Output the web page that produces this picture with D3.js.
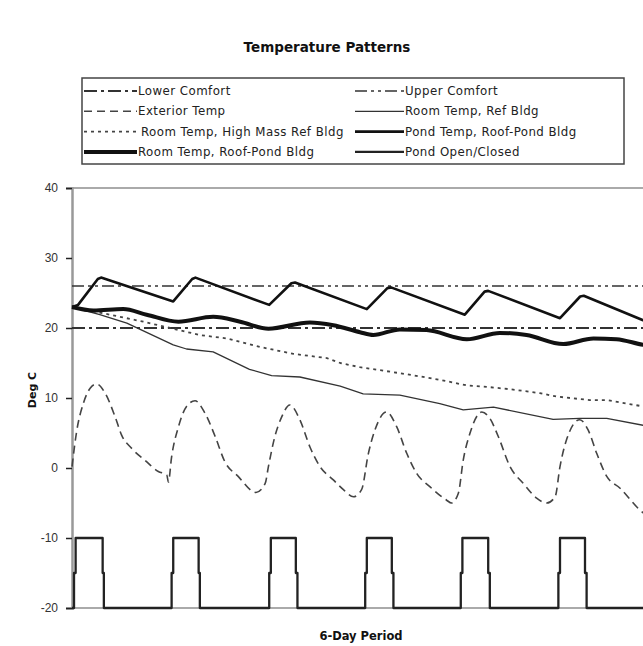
<!DOCTYPE html>
<html><head><meta charset="utf-8">
<script src="https://cdn.jsdelivr.net/npm/d3@7"></script>
<style>
html,body{margin:0;padding:0;background:#fff;}
svg{display:block;}
</style></head>
<body>
<svg id="chart" width="643" height="646"></svg>
<script>
// ---------- data (hours of the 6-day period, deg C) ----------
const yTicks = [-20, -10, 0, 10, 20, 30, 40];
const lowerComfort = [[0, 20], [144, 20]];
const upperComfort = [[0, 26], [144, 26]];
const exteriorTemp = [
  [0,0.2],[1.2,5.4],[2.8,9.2],[4.5,11.4],[6.1,12.0],[8.2,10.7],[10.7,7.3],[12.3,4.7],[14.8,2.8],
  [18.1,1.1],[21.4,-0.5],[23.5,-1.0],[23.9,-2.0],[24.7,1.6],[26.4,5.9],[28.4,8.8],[30.5,9.6],
  [33,7.8],[35.5,4.5],[37.9,0.9],[41.2,-1.2],[45.6,-3.5],[47.9,-2.2],[48.7,0.2],[50.3,4.5],
  [52,7.3],[54,9.0],[56.5,6.9],[59,3.0],[61.5,0.2],[64.8,-1.7],[67.3,-3.1],[69.8,-4.1],
  [71.8,-3.1],[73.5,2.1],[75.1,5.4],[78,8.0],[80.5,5.9],[83,2.1],[85.5,-0.8],[88.8,-2.7],
  [92.9,-4.6],[94.1,-5.0],[95.8,-3.6],[97,1.1],[98.7,5.0],[101.6,8.0],[103.6,7.1],[105.7,4.5],
  [108.6,0.2],[111.9,-2.2],[115.2,-4.3],[117.7,-5.0],[119.8,-4.1],[121,0.2],[122.6,4.0],
  [125.9,6.9],[128,5.4],[130.1,2.1],[132.6,-1.2],[135.9,-2.9],[140.8,-6.0],[144,-7.5]
];
const roomRef = [
  [0,23],[6.9,21.9],[13.6,20.7],[25.1,17.6],[28.4,17.0],[35,16.6],[44,14.1],[49.5,13.2],
  [56.5,13.0],[66.5,11.7],[72.2,10.6],[81.3,10.4],[91.2,9.2],[97,8.3],[104.5,8.7],
  [119.3,6.95],[125.9,7.1],[132.6,7.1],[141.6,6.1],[144,5.8]
];
const roomHighMass = [
  [0,23],[9.4,21.9],[17.7,20.9],[24.3,20.0],[31.7,19.0],[38.4,18.5],[46.6,17.3],[54.9,16.3],
  [63.2,15.7],[66.5,15.0],[71.4,14.4],[83,13.4],[91.2,12.6],[97.9,11.8],[102.8,11.6],
  [109.4,11.2],[116,10.7],[120.2,10.2],[128.4,9.7],[132.6,9.7],[141.6,8.8],[144,8.6]
];
const pondTemp = [
  [0,23.0],[1.5,23.3],[6.4,27.0],[7.2,27.2],[25.1,23.8],[29.8,27.0],[30.6,27.2],[48.9,23.3],
  [54.4,26.4],[55.3,26.5],[73.1,22.7],[78.2,25.7],[79.1,25.8],[97.4,21.9],[102.3,25.2],
  [103.2,25.3],[121,21.4],[126,24.5],[126.9,24.6],[141.6,21.1],[144,20.8]
];
const roomRoofPond = [
  [0,23.0],[5.3,22.5],[12.7,22.7],[18.5,21.9],[26.4,20.9],[35,21.6],[41.7,20.9],[48.7,19.9],
  [59,20.8],[64.8,20.4],[71.4,19.4],[74.7,19.0],[81.3,19.8],[87.9,19.7],[97.9,18.4],
  [106.1,19.3],[112.7,19.0],[121.8,17.7],[129.3,18.5],[135,18.4],[141.6,17.6],[144,17.4]
];
const pondOpenClosed = [
  [0,-20],[0.5,-20],[0.5,-15],[0.9,-15],[0.9,-10],[7.6,-10],[7.6,-15],[7.9,-15],[7.9,-20],
  [24.7,-20],[24.7,-15],[25.1,-15],[25.1,-10],[31.4,-10],[31.4,-15],[31.7,-15],[31.7,-20],
  [48.9,-20],[48.9,-15],[49.3,-15],[49.3,-10],[55.5,-10],[55.5,-15],[55.9,-15],[55.9,-20],
  [72.7,-20],[72.7,-15],[73.1,-15],[73.1,-10],[79.3,-10],[79.3,-15],[79.7,-15],[79.7,-20],
  [96.4,-20],[96.4,-15],[96.8,-15],[96.8,-10],[103.2,-10],[103.2,-15],[103.6,-15],[103.6,-20],
  [120.6,-20],[120.6,-15],[121,-15],[121,-10],[127.2,-10],[127.2,-15],[127.6,-15],[127.6,-20],
  [144,-20]
];
const legendItems = [
  "Lower Comfort", "Upper Comfort", "Exterior Temp", "Room Temp, Ref Bldg",
  "Room Temp, High Mass Ref Bldg", "Pond Temp, Roof-Pond Bldg",
  "Room Temp, Roof-Pond Bldg", "Pond Open/Closed"
];
const titleText = "Temperature Patterns";
const xTitle = "6-Day Period";
const yTitle = "Deg C";

// ---------- styles ----------
const styles = {
  "Lower Comfort": {w: 2, c: "#333", d: "13,4,3,4"},
  "Upper Comfort": {w: 1.5, c: "#333", d: "12,4,3,4,3,4"},
  "Exterior Temp": {w: 1.6, c: "#444", d: "8,5"},
  "Room Temp, Ref Bldg": {w: 1.3, c: "#333", d: null},
  "Room Temp, High Mass Ref Bldg": {w: 1.8, c: "#444", d: "3,4"},
  "Pond Temp, Roof-Pond Bldg": {w: 2.6, c: "#111", d: null},
  "Room Temp, Roof-Pond Bldg": {w: 4, c: "#111", d: null},
  "Pond Open/Closed": {w: 2.3, c: "#222", d: null}
};

const svg = d3.select("#chart");
const mLeft = 72, mTop = 188, mBottom = 608;
const x = d3.scaleLinear().domain([0, 144]).range([mLeft, mLeft + 144 * 4.033]);
const y = d3.scaleLinear().domain([-20, 40]).range([mBottom, mTop]);

// title
svg.append("text").attr("x", 327).attr("y", 52).attr("text-anchor", "middle")
  .attr("font-family", "DejaVu Sans").attr("font-weight", "bold").attr("font-size", 13.5)
  .attr("fill", "#111").text(titleText);

// legend
const lg = svg.append("g");
lg.append("rect").attr("x", 82).attr("y", 78).attr("width", 542).attr("height", 86)
  .attr("fill", "#fff").attr("stroke", "#444").attr("stroke-width", 1.5);
legendItems.forEach((name, i) => {
  const col = i % 2, row = Math.floor(i / 2);
  const ly = 91 + row * 20.3;
  const x0 = col === 0 ? 84 : 355;
  const x1 = col === 0 ? 137 : 404;
  const st = styles[name];
  lg.append("line").attr("x1", x0).attr("x2", x1).attr("y1", ly).attr("y2", ly)
    .attr("stroke", st.c).attr("stroke-width", st.w)
    .attr("stroke-dasharray", st.d);
  lg.append("text").attr("x", x1 + (name === "Room Temp, High Mass Ref Bldg" ? 4 : 1)).attr("y", ly + 4)
    .attr("font-family", "DejaVu Sans").attr("font-size", 11.8).attr("letter-spacing", 0.45)
    .attr("fill", "#222").text(name);
});

// plot frame
svg.append("line").attr("x1", mLeft).attr("x2", 643).attr("y1", mTop).attr("y2", mTop)
  .attr("stroke", "#aaa").attr("stroke-width", 2);
svg.append("line").attr("x1", mLeft).attr("x2", 643).attr("y1", mBottom).attr("y2", mBottom)
  .attr("stroke", "#aaa").attr("stroke-width", 2);

// y axis
const yAxis = d3.axisLeft(y).tickValues(yTicks).tickFormat(d => String(d)).tickSize(6).tickPadding(8);
const ya = svg.append("g").attr("transform", `translate(${mLeft},0)`).call(yAxis);
ya.select(".domain").attr("stroke", "#999").attr("stroke-width", 2.5);
ya.selectAll(".tick line").attr("stroke", "#222").attr("stroke-width", 1.5);
ya.selectAll(".tick text").attr("font-family", "Liberation Sans").attr("font-size", 12).attr("fill", "#333");

svg.append("text").attr("transform", "translate(36,390) rotate(-90)").attr("text-anchor", "middle")
  .attr("font-family", "DejaVu Sans").attr("font-weight", "bold").attr("font-size", 11)
  .attr("fill", "#111").text(yTitle);
svg.append("text").attr("x", 361).attr("y", 640).attr("text-anchor", "middle")
  .attr("font-family", "DejaVu Sans").attr("font-weight", "bold").attr("font-size", 11.5)
  .attr("fill", "#111").text(xTitle);

// series
const lineL = d3.line().x(d => x(d[0])).y(d => y(d[1]));
const lineS = d3.line().x(d => x(d[0])).y(d => y(d[1])).curve(d3.curveMonotoneX);
const series = [
  ["Lower Comfort", lowerComfort, lineL],
  ["Upper Comfort", upperComfort, lineL],
  ["Exterior Temp", exteriorTemp, lineS],
  ["Room Temp, Ref Bldg", roomRef, lineL],
  ["Room Temp, High Mass Ref Bldg", roomHighMass, lineL],
  ["Pond Open/Closed", pondOpenClosed, lineL],
  ["Pond Temp, Roof-Pond Bldg", pondTemp, lineL],
  ["Room Temp, Roof-Pond Bldg", roomRoofPond, lineS]
];
series.forEach(([name, data, gen]) => {
  const st = styles[name];
  svg.append("path").datum(data).attr("d", gen).attr("fill", "none")
    .attr("stroke", st.c).attr("stroke-width", st.w)
    .attr("stroke-dasharray", st.d).attr("stroke-linejoin", "round");
});
</script>
</body></html>
